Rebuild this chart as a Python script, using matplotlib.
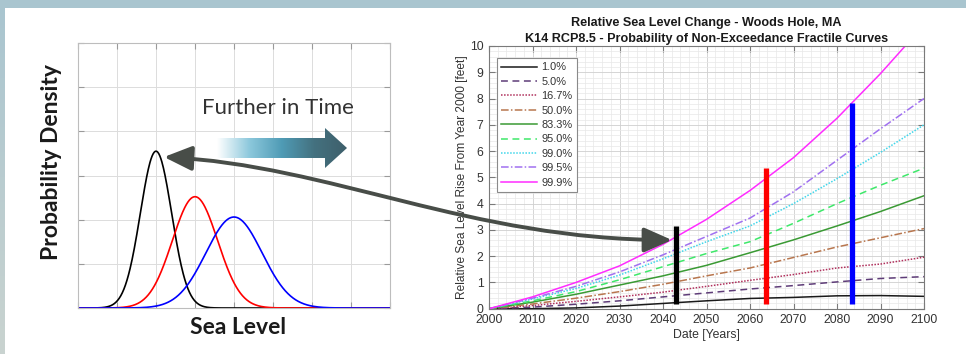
import numpy as np
import matplotlib.pyplot as plt
from matplotlib.patches import Polygon, Rectangle, FancyArrowPatch
from matplotlib.path import Path
from matplotlib.colors import LinearSegmentedColormap
from matplotlib.ticker import AutoMinorLocator

# ---- 左图：示意概率密度（均值 / 宽度 / 峰值，读自原图） ----
dist_centers = [2.0, 3.0, 4.0]
dist_sigmas = [0.40, 0.58, 0.72]
dist_peaks = [3.55, 2.52, 2.06]
dist_colors = ['black', 'red', 'blue']

# ---- 右图：分位数曲线 ----
years = [2000, 2010, 2020, 2030, 2040, 2050, 2060, 2070, 2080, 2090, 2100]
p010 = [0, 0.00, 0.03, 0.10, 0.20, 0.30, 0.39, 0.43, 0.49, 0.50, 0.47]
p050 = [0, 0.06, 0.17, 0.30, 0.45, 0.60, 0.75, 0.88, 1.02, 1.15, 1.22]
p167 = [0, 0.12, 0.28, 0.45, 0.63, 0.85, 1.08, 1.30, 1.55, 1.70, 1.96]
p500 = [0, 0.18, 0.40, 0.65, 0.93, 1.25, 1.55, 1.95, 2.35, 2.70, 3.05]
p833 = [0, 0.25, 0.55, 0.90, 1.25, 1.65, 2.13, 2.62, 3.15, 3.70, 4.30]
p950 = [0, 0.30, 0.65, 1.10, 1.60, 2.10, 2.55, 3.25, 4.00, 4.70, 5.35]
p990 = [0, 0.37, 0.77, 1.28, 1.90, 2.55, 3.15, 4.00, 4.95, 5.95, 7.00]
p995 = [0, 0.40, 0.85, 1.40, 2.05, 2.75, 3.45, 4.45, 5.65, 6.85, 8.00]
p999 = [0, 0.45, 1.00, 1.63, 2.45, 3.40, 4.50, 5.75, 7.25, 8.95, 10.8]
fractile_labels = ['1.0%', '5.0%', '16.7%', '50.0%', '83.3%', '95.0%', '99.0%', '99.5%', '99.9%']

# 竖条（三个时间点）
bar_years = [2043.0, 2063.6, 2083.5]
bar_tops = [3.15, 5.37, 7.82]
bar_bottom = 0.17
bar_colors = ['black', 'red', 'blue']

W, H = 966, 354
fig = plt.figure(figsize=(W / 100, H / 100), dpi=100)
fig.patch.set_facecolor('white')


def px_rect(x0, y0, x1, y1):
    # 像素坐标 -> figure 坐标
    return [x0 / W, 1 - y1 / H, (x1 - x0) / W, (y1 - y0) / H]


# ================= 左图 =================
axl = fig.add_axes(px_rect(78, 43, 390, 308))
xs = np.linspace(0, 8, 600)
for mu, sg, pk, c in zip(dist_centers, dist_sigmas, dist_peaks, dist_colors):
    axl.plot(xs, pk * np.exp(-0.5 * ((xs - mu) / sg) ** 2), color=c, lw=1.2)
axl.set_xlim(0, 8)
axl.set_ylim(0, 6)
axl.set_xticks(range(9))
axl.set_yticks(range(7))
axl.set_xticklabels([])
axl.set_yticklabels([])
axl.grid(True, color='#dcdcdc', lw=0.7)
axl.tick_params(direction='in', length=4, color='#9a9a9a', top=True, right=True)
for sp in axl.spines.values():
    sp.set_color('#bdbdbd')
    sp.set_linewidth(0.8)

fig.text(52 / W, 1 - 162 / H, 'Probability Density', rotation=90, ha='center', va='center',
         fontsize=16.5, fontweight='bold', family='Lato', color='#1a1a1a')
fig.text(238 / W, 1 - 328 / H, 'Sea Level', ha='center', va='center',
         fontsize=16.5, fontweight='bold', family='Lato', color='#1a1a1a')
fig.text(278 / W, 1 - 108 / H, 'Further in Time', ha='center', va='center',
         fontsize=16, family='Lato', color='#333333')

# ================= 右图 =================
ax = fig.add_axes(px_rect(489, 46, 924, 308.7))
series = [p010, p050, p167, p500, p833, p950, p990, p995, p999]
styles = [
    ('#1a1a1a', '-'),
    ('#5e3c78', (0, (4.5, 3))),
    ('#b0305c', (0, (1, 1))),
    ('#b8764e', (0, (5, 1.5, 1, 1.5))),
    ('#3a9a34', '-'),
    ('#3ee86a', (0, (4.5, 3))),
    ('#40d6ea', (0, (1, 1))),
    ('#a070f0', (0, (5, 1.5, 1, 1.5))),
    ('#ff2cff', '-'),
]
for vals, lab, (c, ls) in zip(series, fractile_labels, styles):
    ax.plot(years, vals, color=c, ls=ls, lw=1.1, label=lab)

ax.vlines(bar_years, bar_bottom, bar_tops, colors=bar_colors, lw=3.8, capstyle='butt', zorder=5)

ax.set_xlim(2000, 2100)
ax.set_ylim(0, 10)
ax.set_xticks(range(2000, 2101, 10))
ax.set_yticks(range(0, 11))
ax.xaxis.set_minor_locator(AutoMinorLocator(5))
ax.yaxis.set_minor_locator(AutoMinorLocator(5))
ax.grid(True, which='major', color='#cfcfcf', lw=0.6)
ax.grid(True, which='minor', color='#e8e8e8', lw=0.5)
ax.set_axisbelow(True)
ax.tick_params(which='both', direction='in', top=True, right=True, color='#7a7a7a')
ax.tick_params(axis='x', which='major', length=4, labelsize=8.8, labelcolor='#333333', pad=4)
ax.tick_params(axis='y', which='major', length=4, labelsize=8.8, labelcolor='#333333', pad=4)
ax.tick_params(which='minor', length=0)
for lab in ax.get_xticklabels() + ax.get_yticklabels():
    lab.set_family('Liberation Sans')
for sp in ax.spines.values():
    sp.set_color('#7a7a7a')
    sp.set_linewidth(0.8)

ax.set_xlabel('Date [Years]', family='Liberation Sans', fontsize=8.8, color='#333333', labelpad=2)
ax.set_ylabel('Relative Sea Level Rise From Year 2000 [feet]', family='Liberation Sans',
              fontsize=8.6, color='#333333', labelpad=1)
ax.set_title('Relative Sea Level Change - Woods Hole, MA\n'
             'K14 RCP8.5 - Probability of Non-Exceedance Fractile Curves',
             family='Liberation Sans', fontweight='bold', fontsize=9.1, color='#1a1a1a',
             linespacing=1.4, pad=3)

leg = ax.legend(loc='upper left', bbox_to_anchor=(0.018, 0.954), borderaxespad=0,
                prop={'family': 'Liberation Sans', 'size': 7.9}, handlelength=3.3,
                handletextpad=0.35, labelspacing=0.4, borderpad=0.4,
                fancybox=False, framealpha=1, edgecolor='#8a8a8a')
leg.get_frame().set_linewidth(0.8)
for t in leg.get_texts():
    t.set_color('#333333')

# ================= 覆盖层：背景边框、箭头 =================
ov = fig.add_axes([0, 0, 1, 1], zorder=10)
ov.set_xlim(0, W)
ov.set_ylim(H, 0)
ov.axis('off')
ov.patch.set_alpha(0)

ov.add_patch(Rectangle((0, 0), W, 8, color='#a9c5cf', lw=0))
band = np.linspace(0, 1, 100).reshape(-1, 1)
band_cmap = LinearSegmentedColormap.from_list('band', ['#a9c5cf', '#c9d3d0'])
ov.imshow(band, cmap=band_cmap, extent=(0, 5, H, 0), aspect='auto')

# 渐变方向箭头
grad_cmap = LinearSegmentedColormap.from_list(
    'grad', ['#ffffff', '#8cc8dc', '#4f9bb5', '#44717f', '#3e5f6b'])
arrow_poly = Polygon([(217, 138), (325, 138), (325, 128), (347, 148),
                      (325, 168), (325, 158), (217, 158)], closed=True,
                     facecolor='none', edgecolor='none')
ov.add_patch(arrow_poly)
grad = np.linspace(0, 1, 256).reshape(1, -1)
im = ov.imshow(grad, cmap=grad_cmap, extent=(217, 347, 168, 128), aspect='auto')
im.set_clip_path(arrow_poly)

# 连接左右两图的弯曲双向箭头
conn = Path([(164, 157), (330, 165), (470, 240), (672, 240)],
            [Path.MOVETO, Path.CURVE4, Path.CURVE4, Path.CURVE4])
ov.add_patch(FancyArrowPatch(path=conn, arrowstyle='<|-|>,head_length=1.7,head_width=0.75',
                             mutation_scale=10, lw=2.8, color='#484d48'))

ov.set_xlim(0, W)
ov.set_ylim(H, 0)

fig.savefig('out.png', dpi=100)
